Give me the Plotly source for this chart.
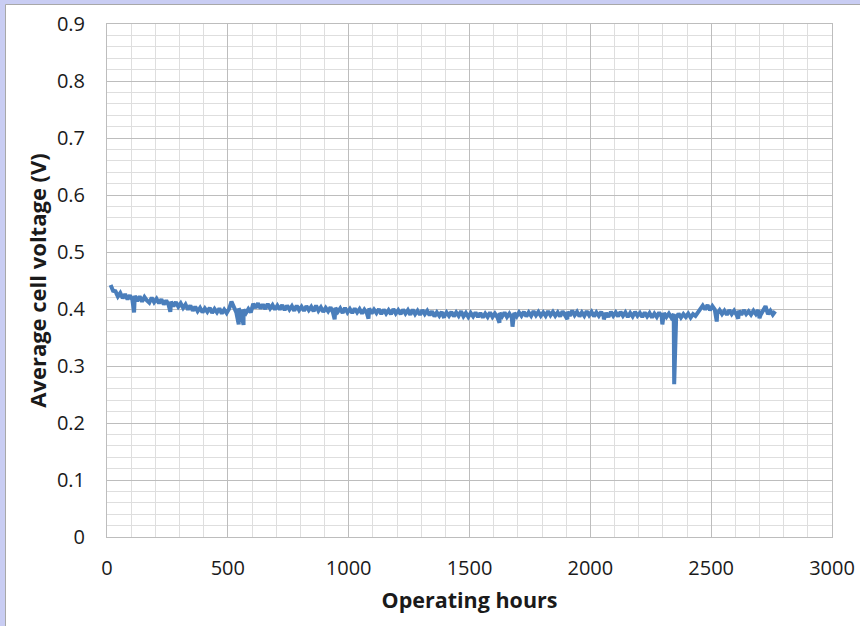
import plotly.graph_objects as go

# Operating hours (regular samples every 10 h) and average cell voltage
hours = list(range(15, 2766, 10))
voltage = [
    0.442, 0.432, 0.431, 0.422, 0.428, 0.419, 0.426, 0.417, 0.424, 0.416,
    0.423, 0.414, 0.422, 0.413, 0.421, 0.415, 0.411, 0.420, 0.412, 0.418,
    0.410, 0.417, 0.408, 0.415, 0.407, 0.413, 0.405, 0.412, 0.404, 0.410,
    0.402, 0.408, 0.399, 0.406, 0.397, 0.404, 0.396, 0.402, 0.394, 0.401,
    0.395, 0.402, 0.393, 0.400, 0.394, 0.401, 0.392, 0.399, 0.393, 0.400,
    0.413, 0.404, 0.394, 0.401, 0.392, 0.399, 0.393, 0.400, 0.394, 0.409,
    0.402, 0.410, 0.401, 0.408, 0.400, 0.409, 0.401, 0.407, 0.399, 0.406,
    0.399, 0.407, 0.398, 0.406, 0.399, 0.405, 0.397, 0.406, 0.398, 0.404,
    0.397, 0.405, 0.398, 0.404, 0.396, 0.406, 0.397, 0.403, 0.395, 0.402,
    0.396, 0.403, 0.394, 0.402, 0.395, 0.401, 0.393, 0.402, 0.394, 0.400,
    0.393, 0.401, 0.394, 0.400, 0.392, 0.399, 0.393, 0.401, 0.392, 0.399,
    0.393, 0.400, 0.391, 0.399, 0.392, 0.398, 0.391, 0.400, 0.392, 0.398,
    0.391, 0.399, 0.392, 0.398, 0.390, 0.399, 0.391, 0.397, 0.390, 0.398,
    0.391, 0.397, 0.389, 0.396, 0.387, 0.394, 0.388, 0.395, 0.387, 0.394,
    0.388, 0.395, 0.387, 0.394, 0.388, 0.396, 0.387, 0.393, 0.386, 0.393,
    0.387, 0.394, 0.386, 0.393, 0.385, 0.392, 0.386, 0.394, 0.386, 0.392,
    0.386, 0.393, 0.387, 0.394, 0.386, 0.392, 0.385, 0.393, 0.387, 0.394,
    0.388, 0.395, 0.387, 0.394, 0.388, 0.396, 0.389, 0.395, 0.388, 0.394,
    0.388, 0.396, 0.389, 0.395, 0.388, 0.394, 0.387, 0.396, 0.389, 0.395,
    0.388, 0.397, 0.389, 0.395, 0.387, 0.394, 0.388, 0.396, 0.389, 0.395,
    0.387, 0.394, 0.388, 0.395, 0.387, 0.393, 0.386, 0.395, 0.388, 0.394,
    0.387, 0.395, 0.388, 0.394, 0.386, 0.393, 0.387, 0.395, 0.388, 0.393,
    0.386, 0.394, 0.387, 0.393, 0.385, 0.392, 0.386, 0.394, 0.387, 0.393,
    0.386, 0.392, 0.385, 0.391, 0.384, 0.392, 0.385, 0.391, 0.386, 0.392,
    0.385, 0.391, 0.388, 0.394, 0.399, 0.406, 0.399, 0.407, 0.398, 0.405,
    0.399, 0.392, 0.398, 0.391, 0.397, 0.390, 0.398, 0.391, 0.397, 0.390,
    0.397, 0.390, 0.398, 0.391, 0.396, 0.390, 0.397, 0.391, 0.398, 0.390,
    0.397, 0.405, 0.391, 0.397, 0.390, 0.396,
]

# Short transient excursions (hour, voltage)
spike_hours = [112, 262, 545, 565, 942, 1082, 1395, 1624, 1678, 1905, 2056, 2298, 2347, 2523, 2612, 2700]
spike_volts = [0.394, 0.395, 0.373, 0.372, 0.382, 0.383, 0.384, 0.376, 0.369, 0.382, 0.382, 0.373, 0.268, 0.378, 0.383, 0.384]

x_ticks = [0, 500, 1000, 1500, 2000, 2500, 3000]
y_ticks = [0, 0.1, 0.2, 0.3, 0.4, 0.5, 0.6, 0.7, 0.8, 0.9]
y_tick_labels = ["0", "0.1", "0.2", "0.3", "0.4", "0.5", "0.6", "0.7", "0.8", "0.9"]

pairs = sorted(zip(hours + spike_hours, voltage + spike_volts))
xs = [p[0] for p in pairs]
ys = [p[1] for p in pairs]

fig = go.Figure()
fig.add_trace(go.Scatter(x=xs, y=ys, mode="lines",
                         line=dict(color="#4a7ebb", width=4), showlegend=False))

W, H = 860, 626
ml, mr, mt, mb = 107, 28, 24, 89
pw, ph = W - ml - mr, H - mt - mb

def px2x(px):
    return (px - ml) / pw

def py2y(py):
    return (H - mb - py) / ph

fig.add_shape(type="rect", xref="paper", yref="paper",
              x0=px2x(5.5), x1=px2x(W + 10), y0=py2y(H + 10), y1=py2y(4.5),
              fillcolor="white", line=dict(color="#a8a8a8", width=1), layer="below")

grid_major = "#bdbdbd"
grid_minor = "#dedede"
font_main = "Open Sans, Liberation Sans, sans-serif"

fig.update_layout(
    width=W, height=H,
    margin=dict(l=ml, r=mr, t=mt, b=mb, pad=0, autoexpand=False),
    paper_bgcolor="#c9cdf3",
    plot_bgcolor="white",
    font=dict(family=font_main, size=20, color="#1a1a1a"),
    xaxis=dict(
        range=[0, 3000], tickvals=x_ticks, ticktext=[str(v) for v in x_ticks],
        showgrid=True, gridcolor=grid_major, gridwidth=1,
        minor=dict(dtick=100, tick0=0, showgrid=True, gridcolor=grid_minor, gridwidth=1),
        showline=True, linecolor=grid_major, linewidth=1, mirror=True,
        zeroline=False, ticks="", ticklabelstandoff=13, ticklabeloverflow="allow",
        title=dict(text="<b>Operating hours</b>", font=dict(size=21.5, family=font_main), standoff=12),
    ),
    yaxis=dict(
        range=[0, 0.9], tickvals=y_ticks, ticktext=y_tick_labels,
        showgrid=True, gridcolor=grid_major, gridwidth=1,
        minor=dict(dtick=0.02, tick0=0, showgrid=True, gridcolor=grid_minor, gridwidth=1),
        showline=True, linecolor=grid_major, linewidth=1, mirror=True,
        zeroline=False, ticks="", ticklabelstandoff=17, ticklabeloverflow="allow",
        title=dict(text="<b>Average cell voltage (V)</b>", font=dict(size=22, family=font_main), standoff=4),
    ),
)

fig.write_html("out.html")
